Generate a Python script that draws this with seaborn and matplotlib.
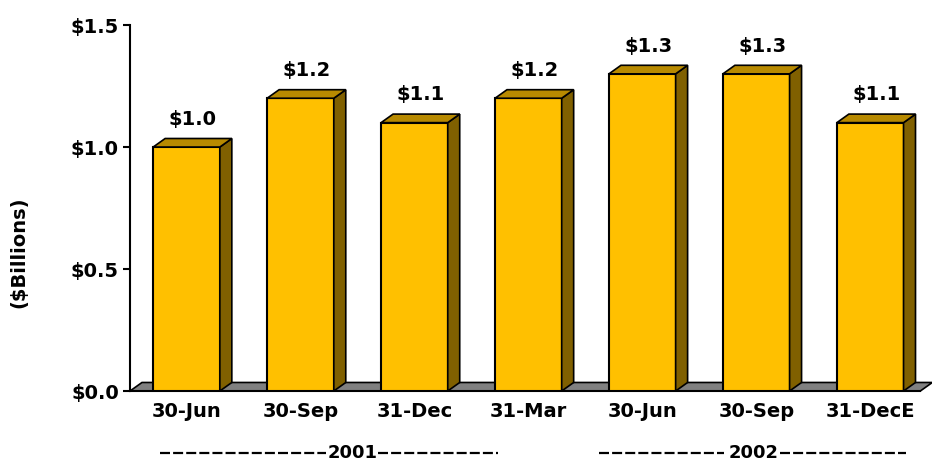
import matplotlib
matplotlib.use("Agg")
import matplotlib.pyplot as plt
from matplotlib.patches import Polygon
import seaborn as sns
import pandas as pd

# --- DATA ---
periods     = ["2001Q2", "2001Q3", "2001Q4", "2002Q1", "2002Q2", "2002Q3", "2002Q4"]
tick_labels = ["30-Jun", "30-Sep", "31-Dec", "31-Mar", "30-Jun", "30-Sep", "31-DecE"]
values      = [1.0, 1.2, 1.1, 1.2, 1.3, 1.3, 1.1]
value_text  = ["$1.0", "$1.2", "$1.1", "$1.2", "$1.3", "$1.3", "$1.1"]
y_ticks     = [0.0, 0.5, 1.0, 1.5]
y_tick_text = ["$0.0", "$0.5", "$1.0", "$1.5"]
years       = ["2001", "2002"]
# year label: (left dash start, left dash end, text centre, right dash start, right dash end)
year_pos    = [(-0.23, 1.22, 1.46, 1.68, 2.73), (3.62, 4.72, 4.98, 5.21, 6.31)]

df = pd.DataFrame({"period": periods, "value": values})

FRONT = "#FFC000"
TOP   = "#B88A00"
SIDE  = "#806000"
FLOOR = "#808080"
DX, DY = 0.105, 0.035   # 3d depth in data units

sns.set_style("white")
plt.rcParams['font.family'] = ['DejaVu Sans']
plt.rcParams['font.weight'] = 'bold'
plt.rcParams['text.color'] = 'black'
plt.rcParams['axes.labelcolor'] = 'black'
plt.rcParams['xtick.color'] = 'black'
plt.rcParams['ytick.color'] = 'black'

fig = plt.figure(figsize=(9.32, 4.68), dpi=100)
ax = fig.add_axes([0.1395, 0.1645, 0.848, 0.782])

sns.barplot(data=df, x="period", y="value", color=FRONT, saturation=1,
            width=0.585, edgecolor="black", linewidth=1.5, ax=ax, zorder=3)

x_lo, x_hi = -0.496, 6.44
ax.set_xlim(x_lo, x_hi)
ax.set_ylim(0, 1.5)

# --- FLOOR ---
floor = Polygon([(x_lo, 0), (x_lo + DX, DY), (x_hi + DX, DY), (x_hi, 0)],
                closed=True, facecolor=FLOOR, edgecolor="black", lw=1.2,
                zorder=2, clip_on=False)
ax.add_patch(floor)

# --- 3D SIDES / TOPS + LABELS ---
for p, txt in zip(ax.patches, value_text):
    x0 = p.get_x()
    w = p.get_width()
    h = p.get_height()
    x1 = x0 + w
    side = Polygon([(x1, 0), (x1 + DX, DY), (x1 + DX, h + DY), (x1, h)],
                   closed=True, facecolor=SIDE, edgecolor="black", lw=1.2, zorder=3)
    top = Polygon([(x0, h), (x0 + DX, h + DY), (x1 + DX, h + DY), (x1, h)],
                  closed=True, facecolor=TOP, edgecolor="black", lw=1.2, zorder=3)
    ax.add_patch(side)
    ax.add_patch(top)
    ax.annotate(txt, (x0 + w / 2 + DX / 2, h + DY), xytext=(0, 7),
                textcoords="offset points", ha="center", va="bottom",
                fontsize=14, fontweight="bold")

# --- AXES ---
ax.set_xticks(range(len(tick_labels)))
ax.set_xticklabels(tick_labels, fontsize=14, fontweight="bold")
ax.set_yticks(y_ticks)
ax.set_yticklabels(y_tick_text, fontsize=14, fontweight="bold")
ax.tick_params(axis="x", length=0, pad=8)
ax.tick_params(axis="y", length=5, width=1.5, color="black", left=True, pad=3)
ax.set_xlabel("")
ax.set_ylabel("($Billions)", fontsize=14, fontweight="bold")
ax.yaxis.set_label_coords(-0.128, 0.38)

for s in ["top", "right"]:
    ax.spines[s].set_visible(False)
ax.spines["left"].set_color("black")
ax.spines["left"].set_linewidth(1.5)
ax.spines["bottom"].set_color("black")
ax.spines["bottom"].set_linewidth(1.5)

# --- YEAR GROUP LABELS ---
trans = ax.get_xaxis_transform()
yy = -0.17
for yr, (l0, l1, mid, r0, r1) in zip(years, year_pos):
    ax.text(mid, yy, yr, transform=trans, ha="center", va="center",
            fontsize=13, fontweight="bold")
    for a, b in [(l0, l1), (r0, r1)]:
        ax.plot([a, b], [yy, yy], transform=trans, color="black", lw=1.6,
                ls=(0, (4.5, 1.4)), clip_on=False, solid_capstyle="butt")

plt.savefig("out.png", dpi=100)
